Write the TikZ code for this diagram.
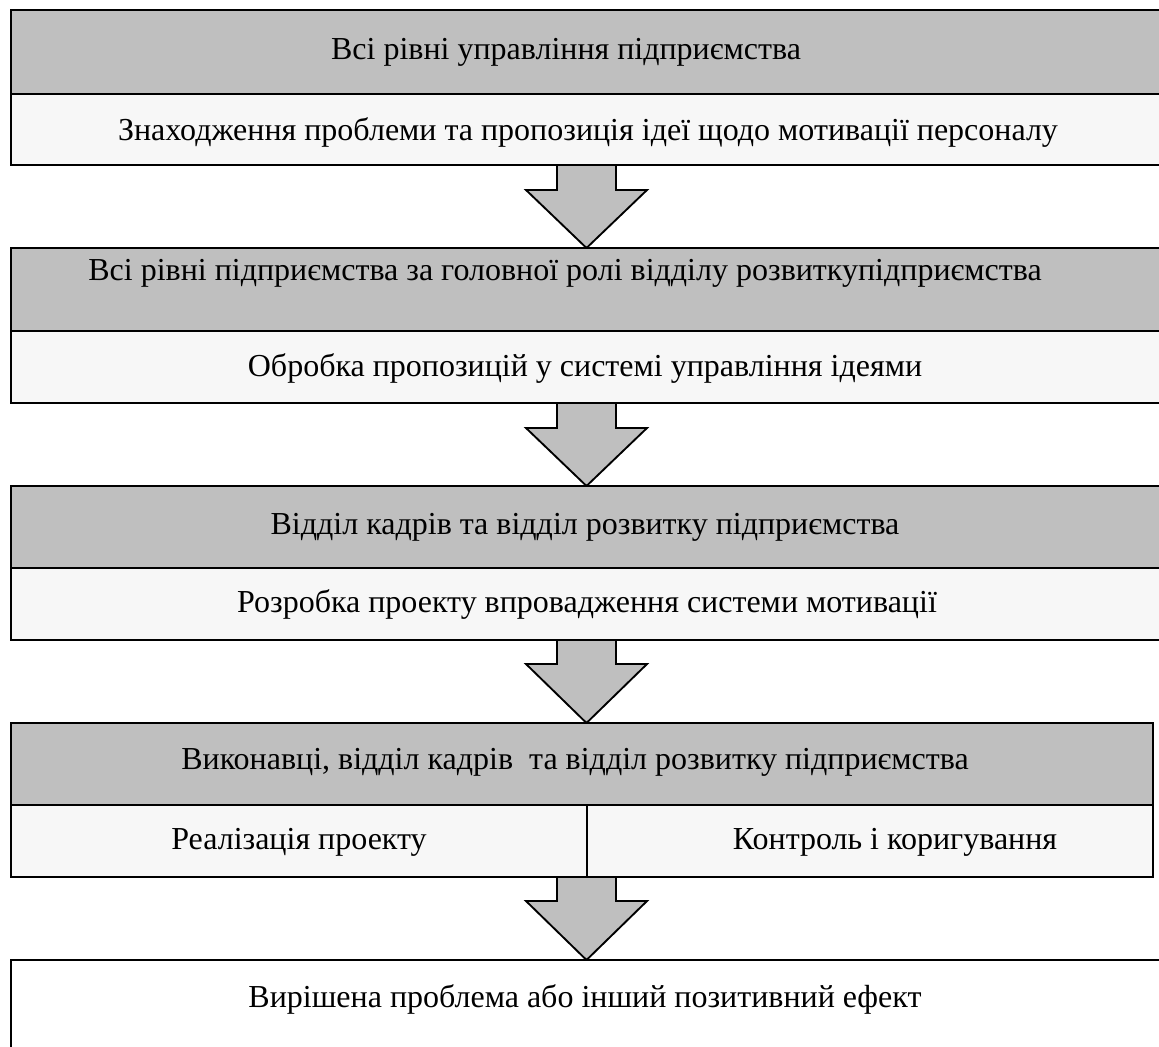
\documentclass[tikz,border=0pt]{standalone}
\usepackage{fontspec}
\setmainfont{Liberation Serif}
\usepackage{xcolor}
\definecolor{rowgray}{RGB}{191,191,191}
\definecolor{rowwhite}{RGB}{247,247,247}
\tikzset{
  box/.style={draw=black, line width=1.7pt},
  blockarrow/.style={draw=black, fill=rowgray, line width=1.4pt, line join=miter},
  lbl/.style={inner sep=0.75pt, font=\fontsize{24}{28}\selectfont}
}

\begin{document}
\begin{tikzpicture}[x=0.75pt,y=0.75pt,yscale=-1,xscale=1]
\useasboundingbox (0,0) rectangle (1159,1046);
\clip (0,0) rectangle (1159,1046);

%Shape: Rectangle [id:block1]
\draw [box, fill=rowgray] (11,10) rectangle (1163,94) ;
\draw [box, fill=rowwhite] (11,94) rectangle (1163,165) ;
%Shape: Down Arrow [id:arrow1]
\draw [blockarrow] (557,165) -- (616,165) -- (616,190) -- (647,190) -- (586.5,248) -- (526,190) -- (557,190) -- cycle ;

%Shape: Rectangle [id:block2]
\draw [box, fill=rowgray] (11,248) rectangle (1163,331) ;
\draw [box, fill=rowwhite] (11,331) rectangle (1163,403) ;
%Shape: Down Arrow [id:arrow2]
\draw [blockarrow] (557,403) -- (616,403) -- (616,428) -- (647,428) -- (586.5,486) -- (526,428) -- (557,428) -- cycle ;

%Shape: Rectangle [id:block3]
\draw [box, fill=rowgray] (11,486) rectangle (1163,568) ;
\draw [box, fill=rowwhite] (11,568) rectangle (1163,640) ;
%Shape: Down Arrow [id:arrow3]
\draw [blockarrow] (557,640) -- (616,640) -- (616,664) -- (647,664) -- (586.5,723) -- (526,664) -- (557,664) -- cycle ;

%Shape: Rectangle [id:block4]
\draw [box, fill=rowgray] (11,723) rectangle (1153,805) ;
\draw [box, fill=rowwhite] (11,805) rectangle (587,877) ;
\draw [box, fill=rowwhite] (587,805) rectangle (1153,877) ;
%Shape: Down Arrow [id:arrow4]
\draw [blockarrow] (557,877) -- (616,877) -- (616,901) -- (647,901) -- (586.5,960) -- (526,901) -- (557,901) -- cycle ;

%Shape: Rectangle [id:block5]
\draw [box, fill=white] (11,960) rectangle (1163,1060) ;

% Text Node
\draw (566,52) node [lbl] (lvl1) {Всі рівні управління підприємства};
% Text Node
\draw (588,132) node [lbl] (act1) {Знаходження проблеми та пропозиція ідеї щодо мотивації персоналу};
% Text Node
\draw (565,273) node [lbl] (lvl2) {Всі рівні підприємства за головної ролі відділу розвиткупідприємства};
% Text Node
\draw (585,368) node [lbl] (act2) {Обробка пропозицій у системі управління ідеями};
% Text Node
\draw (585,527) node [lbl] (lvl3) {Відділ кадрів та відділ розвитку підприємства};
% Text Node
\draw (587,604) node [lbl] (act3) {Розробка проекту впровадження системи мотивації};
% Text Node
\draw (575,762) node [lbl] (lvl4) {Виконавці, відділ кадрів \ та відділ розвитку підприємства};
% Text Node
\draw (299,842) node [lbl] (act4a) {Реалізація проекту};
% Text Node
\draw (895,842) node [lbl] (act4b) {Контроль і коригування};
% Text Node
\draw (585,999) node [lbl] (res) {Вирішена проблема або інший позитивний ефект};

\end{tikzpicture}
\end{document}
